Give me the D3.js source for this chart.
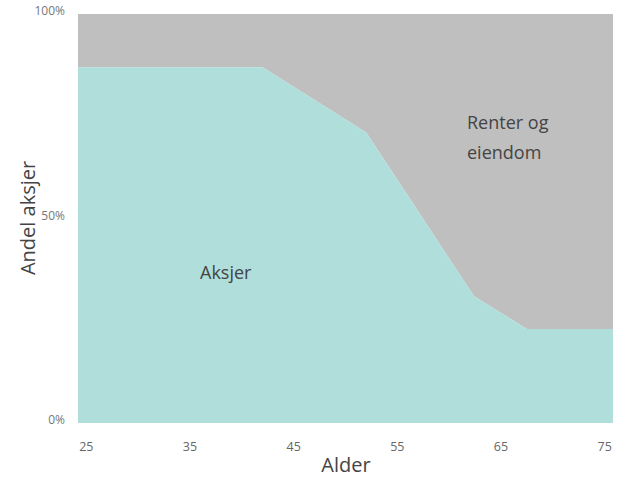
<!DOCTYPE html>
<html>
    <head>
        <script src="https://d3js.org/d3.v7.min.js"></script>
        <style>
            body { margin: 0; background: #fff; }
            text { font-family: "Open Sans", sans-serif; }
        </style>
    </head>

    <body>
        <div id="target"></div>

        <script>
            var ages = [24.2, 42, 52, 62.4, 67.5, 75.8];
            var aksjer = [0.87, 0.87, 0.71, 0.31, 0.23, 0.23];
            var renter = [0.13, 0.13, 0.29, 0.69, 0.77, 0.77];
            var xTicks = [25, 35, 45, 55, 65, 75];
            var yTicks = [0, 0.5, 1];

            var graph = d3.select('#target')
                        .append('svg')
                        .attr('width', 624)
                        .attr('height', 479);

            var x = d3.scaleLinear()
                .domain([24.2, 75.8])
                .range([78, 613]);

            var y = d3.scaleLinear()
                .domain([0, 1])
                .range([423, 14]);

            var data = ages.map(function(a, i) {
                return { age: a, aksjer: aksjer[i], renter: renter[i] };
            });

            // grå andel oppå aksjene
            var topArea = d3.area()
                .x(function(d) { return x(d.age); })
                .y0(function(d) { return y(d.aksjer); })
                .y1(function(d) { return y(d.aksjer + d.renter); });

            var bottomArea = d3.area()
                .x(function(d) { return x(d.age); })
                .y0(y(0))
                .y1(function(d) { return y(d.aksjer); });

            graph.append('path')
                .datum(data)
                .attr('d', topArea)
                .attr('fill', '#bfbfbf');

            graph.append('path')
                .datum(data)
                .attr('d', bottomArea)
                .attr('fill', '#b0dedb');

            graph.selectAll('.xtick')
                .data(xTicks)
                .enter()
                .append('text')
                .attr('class', 'xtick')
                .attr('x', function(d) { return x(d); })
                .attr('y', 451)
                .attr('text-anchor', 'middle')
                .attr('font-size', 12.5)
                .attr('fill', '#666')
                .text(function(d) { return d; });

            graph.selectAll('.ytick')
                .data(yTicks)
                .enter()
                .append('text')
                .attr('class', 'ytick')
                .attr('x', 65)
                .attr('y', function(d) { return y(d) + 1; })
                .attr('text-anchor', 'end')
                .attr('font-size', 12)
                .attr('fill', '#777')
                .text(function(d) { return d3.format('.0%')(d); });

            graph.append('text')
                .attr('x', 346)
                .attr('y', 472)
                .attr('text-anchor', 'middle')
                .attr('font-size', 20)
                .attr('fill', '#444')
                .text('Alder');

            graph.append('text')
                .attr('transform', 'translate(35,218)rotate(-90)')
                .attr('text-anchor', 'middle')
                .attr('font-size', 20)
                .attr('fill', '#444')
                .text('Andel aksjer');

            graph.append('text')
                .attr('x', 200)
                .attr('y', 279)
                .attr('font-size', 18)
                .attr('fill', '#444')
                .text('Aksjer');

            graph.append('text')
                .attr('x', 467)
                .attr('y', 129)
                .attr('font-size', 18)
                .attr('fill', '#444')
                .text('Renter og');

            graph.append('text')
                .attr('x', 467)
                .attr('y', 159)
                .attr('font-size', 18)
                .attr('fill', '#444')
                .text('eiendom');
        </script>
    </body>
</html>
